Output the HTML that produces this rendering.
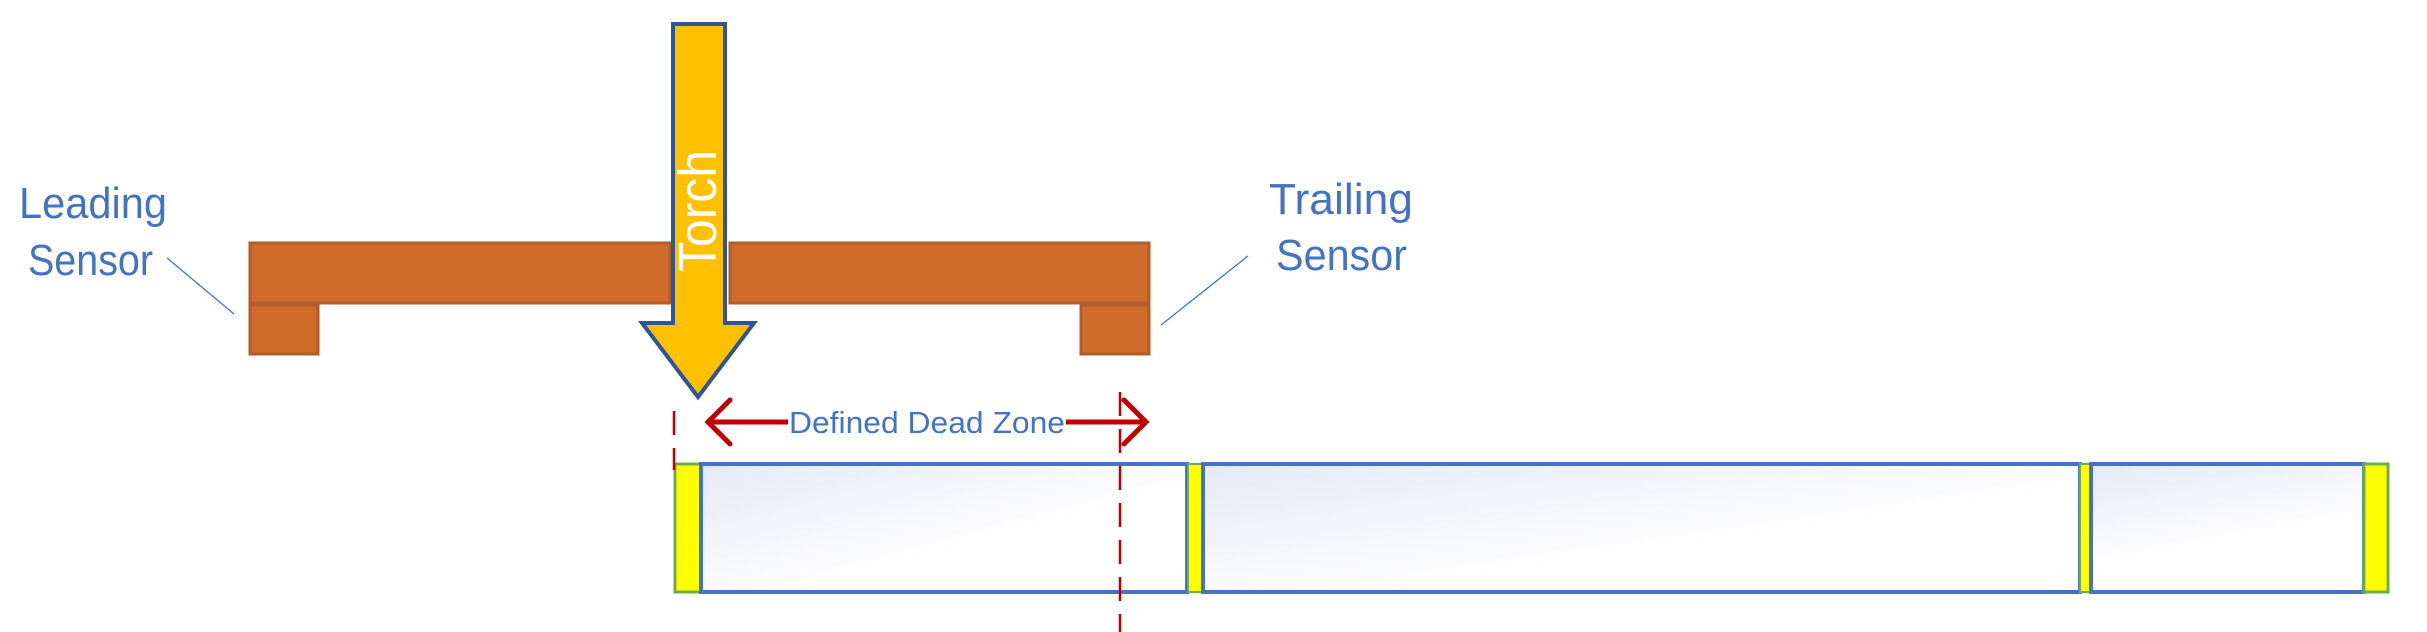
<!DOCTYPE html>
<html><head><meta charset="utf-8"><style>
html,body{margin:0;padding:0;background:#fff;}
svg{display:block;}
text{font-family:"Liberation Sans",sans-serif;fill:#4472C4;}
</style></head><body>
<svg width="2427" height="632" viewBox="0 0 2427 632" xmlns="http://www.w3.org/2000/svg">
<defs>
<linearGradient id="g" x1="0" y1="0" x2="1" y2="1">
<stop offset="0" stop-color="#E6E9F5"/><stop offset="0.6" stop-color="#FFFFFF"/><stop offset="1" stop-color="#FFFFFF"/>
</linearGradient>
<linearGradient id="g2" x1="0" y1="0" x2="0.4" y2="1">
<stop offset="0" stop-color="#E6E9F5"/><stop offset="0.7" stop-color="#FFFFFF"/>
</linearGradient>
</defs>
<!-- bar -->
<rect x="250" y="243" width="420" height="60" fill="#D06D2D" stroke="#B35C27" stroke-width="3"/>
<rect x="730" y="243" width="419" height="60" fill="#D06D2D" stroke="#B35C27" stroke-width="3"/>
<rect x="250" y="305" width="68" height="49" fill="#D06D2D" stroke="#B35C27" stroke-width="3"/>
<rect x="1081" y="305" width="68" height="49" fill="#D06D2D" stroke="#B35C27" stroke-width="3"/>
<!-- torch -->
<polygon points="673,24 725,24 725,323 754,323 698,397 642,323 673,323" fill="#FFC000" stroke="#2F5597" stroke-width="4" stroke-linejoin="miter"/>
<text x="0" y="0" transform="translate(716,272) rotate(-90)" font-size="54" textLength="122" lengthAdjust="spacingAndGlyphs" style="fill:#fff">Torch</text>
<!-- labels -->
<text x="19" y="218" font-size="44" textLength="148" lengthAdjust="spacingAndGlyphs">Leading</text>
<text x="28" y="275" font-size="44" textLength="125" lengthAdjust="spacingAndGlyphs">Sensor</text>
<line x1="167" y1="258" x2="234" y2="314" stroke="#4472C4" stroke-width="1.3"/>
<text x="1269" y="214" font-size="44" textLength="144" lengthAdjust="spacingAndGlyphs">Trailing</text>
<text x="1276" y="270" font-size="44" textLength="131" lengthAdjust="spacingAndGlyphs">Sensor</text>
<line x1="1248" y1="256" x2="1161" y2="325" stroke="#4472C4" stroke-width="1.3"/>
<!-- dead zone arrow -->
<line x1="708" y1="422" x2="788" y2="422" stroke="#C00000" stroke-width="5"/>
<polyline points="730,400 708,422 730,444" fill="none" stroke="#C00000" stroke-width="5" stroke-linecap="round"/>
<line x1="1066" y1="422" x2="1146" y2="422" stroke="#C00000" stroke-width="5"/>
<polyline points="1124,400 1146,422 1124,444" fill="none" stroke="#C00000" stroke-width="5" stroke-linecap="round"/>
<text x="789" y="433" font-size="31" textLength="276" lengthAdjust="spacingAndGlyphs">Defined Dead Zone</text>
<!-- strip -->
<rect x="675" y="464" width="26" height="128" fill="#FFFF00" stroke="#70AD47" stroke-width="3"/>
<rect x="701" y="464" width="486" height="128" fill="url(#g)" stroke="#4472C4" stroke-width="4"/>
<rect x="1188" y="464" width="14" height="128" fill="#FFFF00" stroke="#70AD47" stroke-width="2"/>
<rect x="1203" y="464" width="877" height="128" fill="url(#g)" stroke="#4472C4" stroke-width="4"/>
<rect x="2080" y="464" width="11" height="128" fill="#FFFF00" stroke="#70AD47" stroke-width="2"/>
<rect x="2091" y="464" width="273" height="128" fill="url(#g2)" stroke="#4472C4" stroke-width="4"/>
<rect x="2364" y="464" width="24" height="128" fill="#FFFF00" stroke="#70AD47" stroke-width="3"/>
<!-- dashed -->
<line x1="674" y1="411" x2="674" y2="470" stroke="#C00000" stroke-width="2.5" stroke-dasharray="24,13"/>
<line x1="1120" y1="392" x2="1120" y2="632" stroke="#C00000" stroke-width="2.5" stroke-dasharray="24,13"/>
</svg>
</body></html>
